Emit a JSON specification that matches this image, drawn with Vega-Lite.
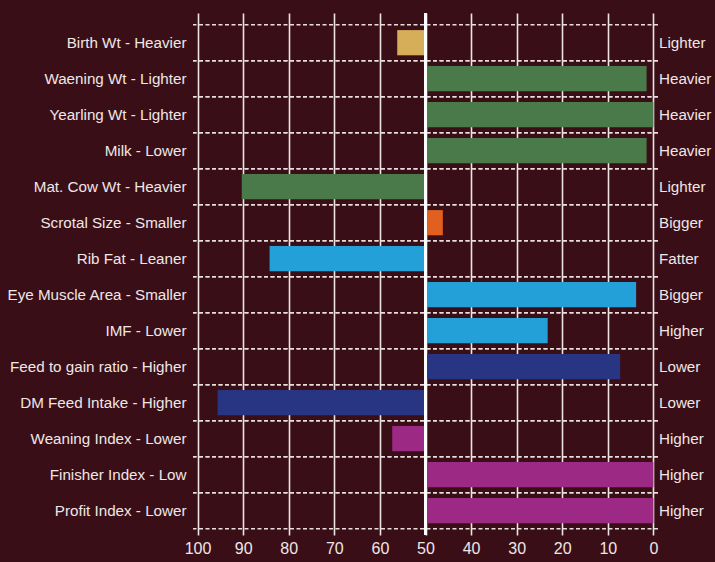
{
  "$schema": "https://vega.github.io/schema/vega-lite/v6.json",
  "autosize": "none",
  "padding": {"left": 193, "top": 13, "right": 57, "bottom": 27},
  "width": 465,
  "height": 522,
  "background": "#3a0e16",
  "config": {
    "view": {"stroke": null},
    "font": "Liberation Sans"
  },
  "data": {
    "values": [
      {"label": "Birth Wt - Heavier", "right": "Lighter", "value": 56.2, "group": "Birth"},
      {"label": "Waening Wt - Lighter", "right": "Heavier", "value": 1.5, "group": "Growth"},
      {"label": "Yearling Wt - Lighter", "right": "Heavier", "value": 0, "group": "Growth"},
      {"label": "Milk - Lower", "right": "Heavier", "value": 1.5, "group": "Growth"},
      {"label": "Mat. Cow Wt - Heavier", "right": "Lighter", "value": 90.3, "group": "Growth"},
      {"label": "Scrotal Size - Smaller", "right": "Bigger", "value": 46.2, "group": "Fertility"},
      {"label": "Rib Fat - Leaner", "right": "Fatter", "value": 84.2, "group": "Carcass"},
      {"label": "Eye Muscle Area - Smaller", "right": "Bigger", "value": 3.8, "group": "Carcass"},
      {"label": "IMF - Lower", "right": "Higher", "value": 23.2, "group": "Carcass"},
      {"label": "Feed to gain ratio - Higher", "right": "Lower", "value": 7.3, "group": "Feed"},
      {"label": "DM Feed Intake - Higher", "right": "Lower", "value": 95.6, "group": "Feed"},
      {"label": "Weaning Index - Lower", "right": "Higher", "value": 57.3, "group": "Index"},
      {"label": "Finisher Index - Low", "right": "Higher", "value": 0, "group": "Index"},
      {"label": "Profit Index - Lower", "right": "Higher", "value": 0, "group": "Index"}
    ]
  },
  "layer": [
    {
      "mark": {"type": "rule", "color": "#e8dede", "strokeWidth": 1.6, "strokeDash": [4, 2.5]},
      "encoding": {"y": {"field": "label", "type": "nominal", "sort": null, "bandPosition": 0}}
    },
    {
      "mark": {"type": "rule", "color": "#e8dede", "strokeWidth": 1.6, "strokeDash": [4, 2.5]},
      "encoding": {"y": {"field": "label", "type": "nominal", "sort": null, "bandPosition": 1}}
    },
    {
      "mark": {"type": "bar", "height": {"band": 0.7}},
      "encoding": {
        "y": {
          "field": "label",
          "type": "nominal",
          "sort": null,
          "scale": {"paddingInner": 0, "paddingOuter": 0.25, "align": 0.65},
          "axis": {
            "title": null,
            "domain": false,
            "ticks": false,
            "grid": false,
            "labelPadding": 7,
            "labelFontSize": 15.2,
            "labelColor": "#efe6e6",
            "labelLimit": 0
          }
        },
        "x": {
          "field": "value",
          "type": "quantitative",
          "scale": {"domain": [101, -1], "nice": false, "zero": false},
          "axis": {
            "title": null,
            "values": [100, 90, 80, 70, 60, 50, 40, 30, 20, 10, 0],
            "grid": true,
            "gridColor": "#ece4e4",
            "gridWidth": 1.6,
            "domain": false,
            "ticks": false,
            "labelPadding": 5,
            "labelFontSize": 16,
            "labelColor": "#efe6e6"
          }
        },
        "x2": {"datum": 50},
        "color": {
          "field": "group",
          "type": "nominal",
          "legend": null,
          "scale": {
            "domain": ["Birth", "Growth", "Fertility", "Carcass", "Feed", "Index"],
            "range": ["#d6ae5a", "#4a7a4a", "#e2601f", "#23a0d8", "#283582", "#9c2a84"]
          }
        }
      }
    },
    {
      "mark": {"type": "rule", "color": "#ffffff", "strokeWidth": 2.6},
      "encoding": {"x": {"datum": 50}}
    },
    {
      "mark": {"type": "text", "align": "left", "baseline": "middle", "dx": 1, "fontSize": 15.2, "color": "#efe6e6"},
      "encoding": {
        "y": {"field": "label", "type": "nominal", "sort": null},
        "x": {"datum": -1},
        "text": {"field": "right", "type": "nominal"}
      }
    }
  ]
}
